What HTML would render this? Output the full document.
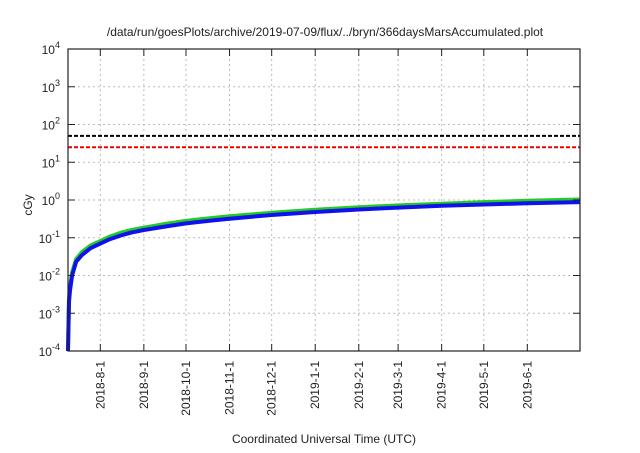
<!DOCTYPE html>
<html><head><meta charset="utf-8"><style>
body{margin:0;background:#fff;}
svg text{font-family:"Liberation Sans",sans-serif;fill:#222;}
</style></head><body>
<svg id="chart" width="640" height="448" xmlns="http://www.w3.org/2000/svg">
<rect width="640" height="448" fill="#fff"/>
<text x="325" y="36" font-size="12" text-anchor="middle">/data/run/goesPlots/archive/2019-07-09/flux/../bryn/366daysMarsAccumulated.plot</text>
<g id="grid"></g>
<g id="marks"></g>
<g id="axes"></g>
<text x="0" y="0" font-size="12" text-anchor="middle" transform="translate(32,205) rotate(-90)">cGy</text>
<text x="324" y="443" font-size="12" text-anchor="middle">Coordinated Universal Time (UTC)</text>
</svg>
<script>
const yTickExps = [-4,-3,-2,-1,0,1,2,3,4];
const xTickLabels = ["2018-8-1","2018-9-1","2018-10-1","2018-11-1","2018-12-1","2019-1-1","2019-2-1","2019-3-1","2019-4-1","2019-5-1","2019-6-1"];
const xTickDays = [23,54,84,115,145,176,207,235,266,296,327];
const thresholdValues = [50,25];
const thresholdColors = ["#000","#e00"];
const seriesDays = [0,0.7,1.4,2.9,5.8,10,16,23,30,37.5,45,54,70,84,100,115,145,176,207,235,266,296,327,364.5];
const blueValues = [0.0001,0.002,0.004,0.01,0.023,0.035,0.053,0.07,0.092,0.115,0.137,0.16,0.2,0.24,0.28,0.32,0.4,0.48,0.56,0.63,0.7,0.76,0.82,0.88];
const greenValues = [0.0001,0.0025,0.005,0.012,0.027,0.042,0.062,0.082,0.108,0.135,0.16,0.185,0.235,0.28,0.325,0.37,0.46,0.55,0.64,0.72,0.8,0.88,0.95,1.03];
const redValues = [0.0001,0.0026,0.0052,0.0125,0.028,0.044,0.065,0.085,0.112,0.14,0.165,0.19,0.24,0.29,0.335,0.38,0.47,0.57,0.66,0.74,0.82,0.9,0.97,1.06];
const L=68,R=580,T=49,B=351,D0=0,D1=364.5;
const NS="http://www.w3.org/2000/svg";
function xs(d){return L+(d-D0)/(D1-D0)*(R-L);}
function ys(v){return B-(Math.log10(v)+4)/8*(B-T);}
function mk(tag,attrs,parent){const e=document.createElementNS(NS,tag);for(const k in attrs)e.setAttribute(k,attrs[k]);parent.appendChild(e);return e;}
const grid=document.getElementById('grid'),axes=document.getElementById('axes'),marks=document.getElementById('marks');
yTickExps.forEach(e=>{
  const y=ys(Math.pow(10,e));
  if(e>-4&&e<4){const g=mk('line',{x1:L,x2:R,y1:y,y2:y,stroke:'#bbb','stroke-dasharray':'2,3','stroke-width':1},grid);
  }
  const t1=mk('line',{x1:L,x2:L+7,y1:y,y2:y,stroke:'#222'},axes);
  
  const t2=mk('line',{x1:R-7,x2:R,y1:y,y2:y,stroke:'#222'},axes);
  
  const tx=mk('text',{x:L-8,y:y+5,'font-size':12,'text-anchor':'end'},axes);
  
  tx.textContent='10';
  const sp=mk('tspan',{dy:-6,'font-size':9},tx);sp.textContent=String(e);
});
xTickDays.forEach((d,i)=>{
  const x=xs(d);
  const g=mk('line',{x1:x,x2:x,y1:T,y2:B,stroke:'#bbb','stroke-dasharray':'2,3'},grid);
  
  const t=mk('line',{x1:x,x2:x,y1:B-7,y2:B,stroke:'#222'},axes);
  
  const t2=mk('line',{x1:x,x2:x,y1:T,y2:T+7,stroke:'#222'},axes);
  
  const tx=mk('text',{x:0,y:0,'font-size':12,'text-anchor':'end',transform:`translate(${x+4},${B+10}) rotate(-90)`},axes);
  
  tx.textContent=xTickLabels[i];
});
const fr=mk('rect',{x:L,y:T,width:R-L,height:B-T,fill:'none',stroke:'#222','stroke-width':1.2},axes);

thresholdValues.forEach((v,i)=>{
  const y=ys(v);
  const l=mk('line',{x1:L,x2:R,y1:y,y2:y,stroke:thresholdColors[i],'stroke-width':2,'stroke-dasharray':'4,2'},marks);
  
});
function path(vals){return vals.map((v,i)=>(i?'L':'M')+xs(seriesDays[i]).toFixed(1)+','+ys(v).toFixed(1)).join(' ');}
[[redValues,'#e33',2,'red-series'],[greenValues,'#2c2',4,'green-series'],[blueValues,'#11e',4,'blue-series']].forEach(s=>{
  const p=mk('path',{d:path(s[0]),fill:'none',stroke:s[1],'stroke-width':s[2],'stroke-linejoin':'round'},marks);
  
});
</script>
</body></html>
